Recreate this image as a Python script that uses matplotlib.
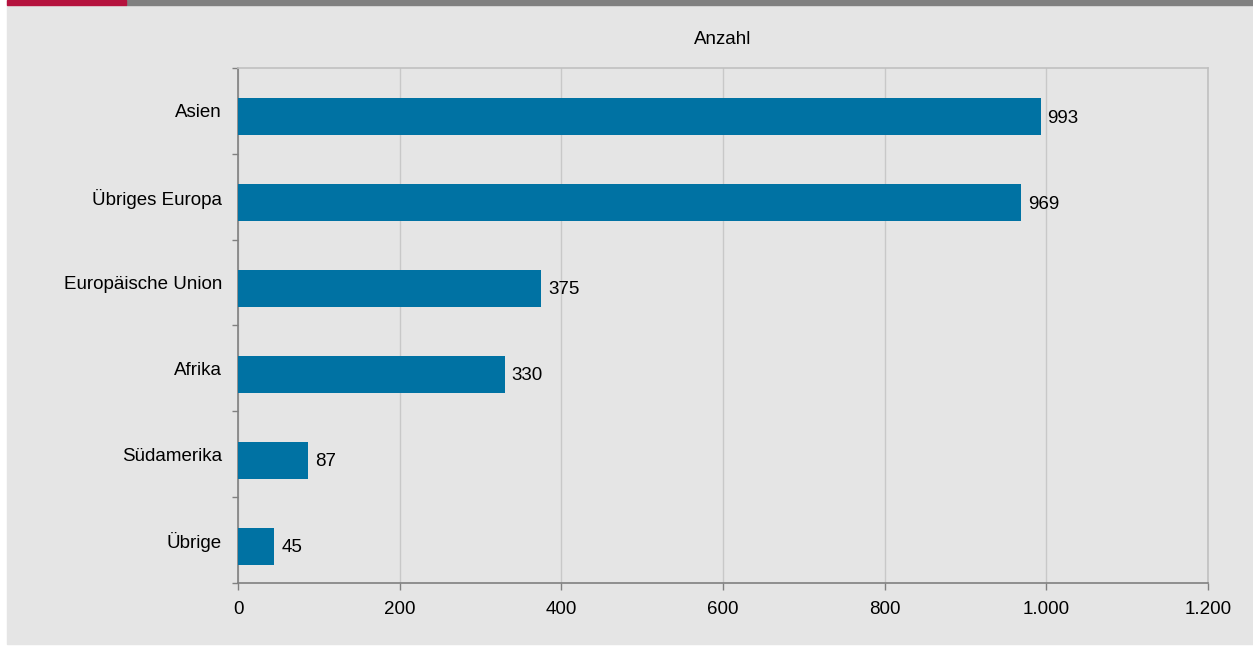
import numpy as np
import matplotlib.pyplot as plt
from matplotlib.patches import Rectangle
from matplotlib.ticker import FuncFormatter

regions = ["Asien", "Übriges Europa", "Europäische Union", "Afrika", "Südamerika", "Übrige"]
counts = [993, 969, 375, 330, 87, 45]
x_ticks = [0, 200, 400, 600, 800, 1000, 1200]

bar_color = "#0072a3"
panel_color = "#e5e5e5"
fs = 13.5

plt.rcParams['font.family'] = ['Liberation Sans', 'DejaVu Sans']

fig = plt.figure(figsize=(12.53, 6.46), dpi=100)
fig.patch.set_facecolor("white")

# grey panel and coloured strip on top (behind the axes)
fig.patches.append(Rectangle((7 / 1253, 2 / 646), 1 - 7 / 1253, 1 - 2 / 646,
                             transform=fig.transFigure, color=panel_color, zorder=-2))
fig.patches.append(Rectangle((126 / 1253, 1 - 5 / 646), 1 - 126 / 1253, 5 / 646,
                             transform=fig.transFigure, color="#808080", zorder=-1))
fig.patches.append(Rectangle((7 / 1253, 1 - 5 / 646), 119 / 1253, 5 / 646,
                             transform=fig.transFigure, color="#b5123e", zorder=-1))

ax = fig.add_axes([238 / 1253, 1 - 583 / 646, 970 / 1253, 515 / 646])
ax.set_facecolor(panel_color)

y = np.arange(len(regions))
bar_y = y + 0.07  # bars sit slightly below the band centre
ax.barh(bar_y, counts, height=0.43, color=bar_color, zorder=3)
for yi, v in zip(bar_y, counts):
    ax.annotate(str(v), (v, yi), xytext=(5, -1), textcoords="offset points",
                va="center", ha="left", fontsize=fs, color="black")

ax.set_ylim(len(regions) - 0.5, -0.5)
ax.set_xlim(0, 1200)
ax.set_xticks(x_ticks)
ax.xaxis.set_major_formatter(FuncFormatter(lambda v, p: f"{int(v):,}".replace(",", ".")))
ax.set_yticks(y)
ax.set_yticklabels(regions)
ax.set_yticks(np.arange(-0.5, len(regions)), minor=True)
ax.tick_params(axis="y", which="major", length=0, pad=11.5, labelsize=fs)
ax.tick_params(axis="y", which="minor", length=4, color="#808080", width=1)
ax.tick_params(axis="x", length=5, color="#808080", width=1, labelsize=fs, pad=8)

ax.grid(axis="x", color="#c8c8c8", linewidth=1, zorder=0)
for s in ["top", "right"]:
    ax.spines[s].set_color("#c0c0c0")
    ax.spines[s].set_linewidth(1.2)
for s in ["left", "bottom"]:
    ax.spines[s].set_color("#808080")
    ax.spines[s].set_linewidth(1.2)

ax.set_title("Anzahl", fontsize=fs, pad=17)

fig.savefig("out.png", dpi=100)
